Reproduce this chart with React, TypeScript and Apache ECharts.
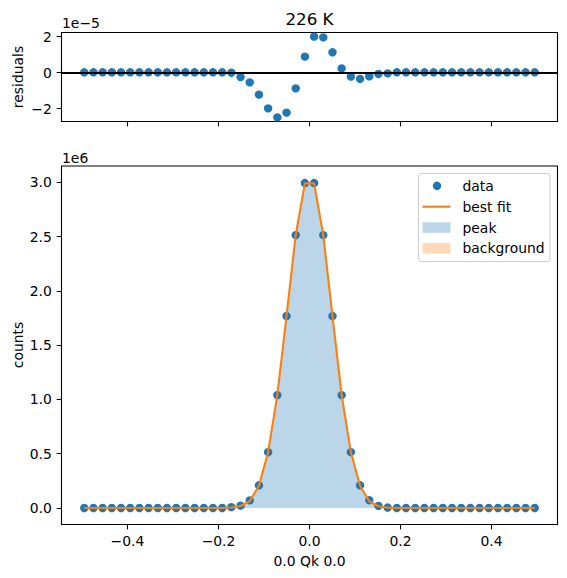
import { useEffect, useRef } from "react";
import * as echarts from "echarts";

// Qk positions of the 50 measured points
const qk = [
  -0.495, -0.4748, -0.4546, -0.4344, -0.4142, -0.394, -0.3738, -0.3536, -0.3334, -0.3132,
  -0.293, -0.2727, -0.2525, -0.2323, -0.2121, -0.1919, -0.1717, -0.1515, -0.1313, -0.1111,
  -0.0909, -0.0707, -0.0505, -0.0303, -0.0101, 0.0101, 0.0303, 0.0505, 0.0707, 0.0909,
  0.1111, 0.1313, 0.1515, 0.1717, 0.1919, 0.2121, 0.2323, 0.2525, 0.2727, 0.293,
  0.3132, 0.3334, 0.3536, 0.3738, 0.394, 0.4142, 0.4344, 0.4546, 0.4748, 0.495,
];

// measured counts
const counts = [
  0, 0, 0, 0, 0, 0, 0, 0, 0, 0,
  0, 0, 0, 0, 0, 0, 8000, 22000, 70000, 209000,
  514000, 1040000, 1768000, 2513000, 2993000, 2993000, 2513000, 1768000, 1040000, 514000,
  209000, 72000, 20000, 4000, 0, 0, 0, 0, 0, 0,
  0, 0, 0, 0, 0, 0, 0, 0, 0, 0,
];

// best-fit curve evaluated at the same Qk
const bestFit = [
  0, 0, 0, 0, 0, 0, 0, 0, 0, 0,
  0, 0, 0, 0, 0, 0, 5000, 18000, 62000, 205000,
  514000, 1040000, 1768000, 2513000, 2990000, 2990000, 2513000, 1768000, 1040000, 514000,
  205000, 62000, 16000, 3000, 0, 0, 0, 0, 0, 0,
  0, 0, 0, 0, 0, 0, 0, 0, 0, 0,
];

// fitted background level
const background = [
  0, 0, 0, 0, 0, 0, 0, 0, 0, 0,
  0, 0, 0, 0, 0, 0, 0, 0, 0, 0,
  0, 0, 0, 0, 0, 0, 0, 0, 0, 0,
  0, 0, 0, 0, 0, 0, 0, 0, 0, 0,
  0, 0, 0, 0, 0, 0, 0, 0, 0, 0,
];

// residuals
const residuals = [
  2e-7, 2e-7, 2e-7, 2e-7, 2e-7, 2e-7, 2e-7, 2e-7, 2e-7, 2e-7,
  2e-7, 2e-7, 2e-7, 2e-7, 2e-7, 2e-7, 0, -0.24e-5, -0.54e-5, -1.22e-5,
  -1.98e-5, -2.48e-5, -2.22e-5, -0.87e-5, 0.89e-5, 2.0e-5, 1.96e-5, 1.13e-5, 0.24e-5, -0.22e-5,
  -0.35e-5, -0.2e-5, -0.07e-5, -0.04e-5, 2e-7, 2e-7, 2e-7, 2e-7, 2e-7, 2e-7,
  2e-7, 2e-7, 2e-7, 2e-7, 2e-7, 2e-7, 2e-7, 2e-7, 2e-7, 2e-7,
];

const xTicks = [-0.4, -0.2, 0, 0.2, 0.4];
const countTicks = [0, 500000, 1000000, 1500000, 2000000, 2500000, 3000000];
const residualTicks = [-2e-5, 0, 2e-5];

const FONT = "DejaVu Sans";
const FS = 13.9;
const BLUE = "#1f77b4";
const ORANGE = "#ff7f0e";

const minus = (s: string) => s.replace("-", "\u2212");

export default function App() {
  const ref = useRef<HTMLDivElement>(null);

  useEffect(() => {
    const chart = echarts.init(ref.current!, null, { renderer: "svg" });

    const pairs = (ys: number[]) => qk.map((x, i) => [x, ys[i]]);

    const tickStyle = { show: true, inside: false, length: 4.9, lineStyle: { color: "#000", width: 1.1 } };
    const labelBase = { fontFamily: FONT, fontSize: FS, color: "#000" };
    const noLine = { show: false, onZero: false };

    const option: any = {
      animation: false,
      grid: [
        { left: 61.5, top: 32.5, width: 496, height: 89, show: true, borderColor: "#000", borderWidth: 1.1, backgroundColor: "transparent", outerBoundsMode: "none" },
        { left: 61.5, top: 166, width: 496, height: 358.5, show: true, borderColor: "#000", borderWidth: 1.1, backgroundColor: "transparent", outerBoundsMode: "none" },
      ],
      xAxis: [
        {
          type: "value", gridIndex: 0, min: -0.545, max: 0.545, position: "bottom",
          axisLine: noLine, splitLine: { show: false },
          axisTick: { ...tickStyle, customValues: xTicks },
          axisLabel: { show: false, customValues: xTicks },
        },
        {
          type: "value", gridIndex: 1, min: -0.545, max: 0.545, position: "bottom",
          axisLine: noLine, splitLine: { show: false },
          axisTick: { ...tickStyle, customValues: xTicks },
          axisLabel: { ...labelBase, margin: 9.7, customValues: xTicks, formatter: (v: number) => minus(v.toFixed(1)) },
        },
      ],
      yAxis: [
        {
          type: "value", gridIndex: 0, min: -2.71e-5, max: 2.23e-5, position: "left",
          axisLine: noLine, splitLine: { show: false },
          axisTick: { ...tickStyle, customValues: residualTicks },
          axisLabel: { ...labelBase, margin: 9.7, customValues: residualTicks, formatter: (v: number) => minus(String(Math.round(v * 1e5))) },
        },
        {
          type: "value", gridIndex: 1, min: -152000, max: 3150000, position: "left",
          axisLine: noLine, splitLine: { show: false },
          axisTick: { ...tickStyle, customValues: countTicks },
          axisLabel: { ...labelBase, margin: 9.7, customValues: countTicks, formatter: (v: number) => (v / 1e6).toFixed(1) },
        },
      ],
      series: [
        {
          name: "zero", type: "scatter", xAxisIndex: 0, yAxisIndex: 0, data: [], z: 1, silent: true,
          markLine: {
            silent: true, symbol: "none", animation: false,
            label: { show: false },
            lineStyle: { color: "#000", width: 2.1, type: "solid" },
            emphasis: { disabled: true },
            data: [{ yAxis: 0 }],
          },
        },
        {
          name: "residuals", type: "scatter", xAxisIndex: 0, yAxisIndex: 0, z: 2,
          symbol: "circle", symbolSize: 8.4, itemStyle: { color: BLUE, opacity: 1 },
          data: pairs(residuals),
        },
        {
          name: "background", type: "line", xAxisIndex: 1, yAxisIndex: 1, z: 1,
          symbol: "none", showSymbol: false, lineStyle: { width: 0, opacity: 0 },
          areaStyle: { color: "rgba(255,127,14,0.3)", opacity: 1 },
          data: pairs(background),
        },
        {
          name: "peak", type: "line", xAxisIndex: 1, yAxisIndex: 1, z: 1,
          symbol: "none", showSymbol: false, lineStyle: { width: 0, opacity: 0 },
          areaStyle: { color: "rgba(31,119,180,0.3)", opacity: 1 },
          data: pairs(bestFit),
        },
        {
          name: "data", type: "scatter", xAxisIndex: 1, yAxisIndex: 1, z: 2,
          symbol: "circle", symbolSize: 8.4, itemStyle: { color: BLUE, opacity: 1 },
          data: pairs(counts),
        },
        {
          name: "best fit", type: "line", xAxisIndex: 1, yAxisIndex: 1, z: 3,
          symbol: "none", showSymbol: false, lineStyle: { color: ORANGE, width: 2.1 },
          data: pairs(bestFit),
        },
      ],
      graphic: [
        { type: "text", x: 309.5, y: 18.5, style: { text: "226 K", fontFamily: FONT, fontSize: 16.7, fill: "#000", textAlign: "center", textVerticalAlign: "middle" } },
        { type: "text", x: 62, y: 22.5, style: { text: "1e\u22125", fontFamily: FONT, fontSize: FS, fill: "#000", textAlign: "left", textVerticalAlign: "middle" } },
        { type: "text", x: 62, y: 157.5, style: { text: "1e6", fontFamily: FONT, fontSize: FS, fill: "#000", textAlign: "left", textVerticalAlign: "middle" } },
        { type: "text", x: 18, y: 77, rotation: Math.PI / 2, style: { text: "residuals", fontFamily: FONT, fontSize: FS, fill: "#000", textAlign: "center", textVerticalAlign: "middle" } },
        { type: "text", x: 18, y: 345, rotation: Math.PI / 2, style: { text: "counts", fontFamily: FONT, fontSize: FS, fill: "#000", textAlign: "center", textVerticalAlign: "middle" } },
        { type: "text", x: 309.5, y: 560.5, style: { text: "0.0 Qk 0.0", fontFamily: FONT, fontSize: FS, fill: "#000", textAlign: "center", textVerticalAlign: "middle" } },
        // legend
        { type: "rect", shape: { x: 418.5, y: 173.5, width: 131.5, height: 88, r: 2.8 }, style: { fill: "rgba(255,255,255,0.8)", stroke: "#cccccc", lineWidth: 1 }, z: 10 },
        { type: "circle", shape: { cx: 437, cy: 185.8, r: 4.2 }, style: { fill: BLUE }, z: 11 },
        { type: "line", shape: { x1: 422.5, y1: 206.7, x2: 450.5, y2: 206.7 }, style: { stroke: ORANGE, lineWidth: 2.1 }, z: 11 },
        { type: "rect", shape: { x: 422.5, y: 222.3, width: 28, height: 10.5 }, style: { fill: "rgba(31,119,180,0.3)" }, z: 11 },
        { type: "rect", shape: { x: 422.5, y: 243, width: 28, height: 10.5 }, style: { fill: "rgba(255,127,14,0.3)" }, z: 11 },
        { type: "text", x: 462.5, y: 185.8, style: { text: "data", fontFamily: FONT, fontSize: FS, fill: "#000", textAlign: "left", textVerticalAlign: "middle" }, z: 11 },
        { type: "text", x: 462.5, y: 206.7, style: { text: "best fit", fontFamily: FONT, fontSize: FS, fill: "#000", textAlign: "left", textVerticalAlign: "middle" }, z: 11 },
        { type: "text", x: 462.5, y: 227.6, style: { text: "peak", fontFamily: FONT, fontSize: FS, fill: "#000", textAlign: "left", textVerticalAlign: "middle" }, z: 11 },
        { type: "text", x: 462.5, y: 248.4, style: { text: "background", fontFamily: FONT, fontSize: FS, fill: "#000", textAlign: "left", textVerticalAlign: "middle" }, z: 11 },
      ],
    };

    chart.setOption(option);
    return () => chart.dispose();
  }, []);

  return <div ref={ref} style={{ position: "absolute", left: 0, top: 0, width: 567, height: 578 }} />;
}
